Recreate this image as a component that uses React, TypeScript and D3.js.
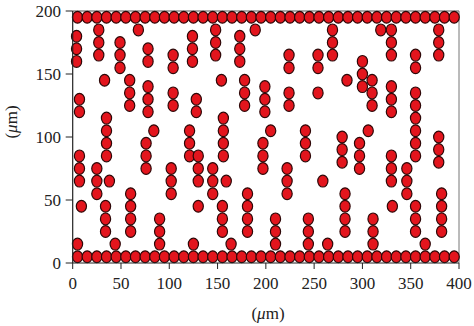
import React from "react";
import * as d3 from "d3";

const W = 474;
const H = 326;

const xTicks = [0, 50, 100, 150, 200, 250, 300, 350, 400];
const yTicks = [0, 50, 100, 150, 200];

// wall rows (µm)
const wallX = [5, 15, 25, 35, 45, 55, 65, 75, 85, 95, 105, 115, 125, 135, 145, 155, 165, 175, 185, 195,
  205, 215, 225, 235, 245, 255, 265, 275, 285, 295, 305, 315, 325, 335, 345, 355, 365, 375, 385, 395];
const bottomY = 5;
const topY = 195;

// interior particles [x µm, y µm]
const interior: [number, number][] = [
  [4, 180], [4, 170], [4, 160],
  [7, 130], [7, 120],
  [7, 85], [7, 75], [7, 65],
  [9, 45],
  [5, 15],
  [27, 185], [27, 175], [27, 165],
  [33, 145],
  [35, 115], [35, 105], [35, 95], [35, 85],
  [25, 75], [25, 65], [25, 55],
  [38, 65],
  [34, 45], [34, 35], [34, 25],
  [44, 15],
  [49, 175], [49, 165], [49, 155],
  [59, 145], [59, 135], [59, 125],
  [60, 55], [60, 45], [60, 35], [60, 25],
  [68, 185],
  [78, 170], [78, 160],
  [78, 140], [78, 130], [78, 120],
  [76, 95], [76, 85], [76, 75],
  [84, 105],
  [90, 35], [90, 25], [90, 15],
  [104, 165], [104, 155],
  [104, 135], [104, 125],
  [102, 75], [102, 65], [102, 55],
  [124, 180], [124, 170], [124, 160],
  [128, 130], [128, 120],
  [121, 105], [121, 95], [121, 85],
  [130, 85], [130, 75], [130, 65],
  [130, 45],
  [125, 15],
  [148, 185], [148, 175], [148, 165],
  [154, 145],
  [156, 115], [156, 105], [156, 95], [156, 85],
  [145, 75], [145, 65], [145, 55],
  [159, 65],
  [155, 45], [155, 35], [155, 25],
  [164, 15],
  [173, 180], [173, 170], [173, 160],
  [178, 145], [178, 135], [178, 125],
  [189, 185],
  [199, 140], [199, 130], [199, 120],
  [205, 105],
  [197, 95], [197, 85], [197, 75],
  [181, 55], [181, 45], [181, 35], [181, 25],
  [210, 35], [210, 25], [210, 15],
  [224, 165], [224, 155],
  [224, 135], [224, 125],
  [222, 75], [222, 65], [222, 55],
  [241, 105], [241, 95], [241, 85],
  [244, 35], [244, 25], [244, 15],
  [254, 165], [254, 155],
  [254, 135],
  [259, 65],
  [264, 15],
  [269, 185], [269, 175], [269, 165],
  [284, 145],
  [279, 100], [279, 90], [279, 80],
  [282, 55], [282, 45], [282, 35], [282, 25],
  [297, 95], [297, 85], [297, 75],
  [300, 160], [300, 150], [300, 140],
  [310, 145], [310, 135], [310, 125],
  [306, 105],
  [311, 35], [311, 25], [311, 15],
  [319, 185],
  [330, 185], [330, 175], [330, 165],
  [330, 140], [330, 130], [330, 120],
  [330, 85], [330, 75], [330, 65],
  [331, 45],
  [346, 75], [346, 65], [346, 55],
  [355, 165], [355, 155],
  [355, 135], [355, 125], [355, 115], [355, 105], [355, 95], [355, 85],
  [355, 45], [355, 35], [355, 25],
  [365, 15],
  [379, 185], [379, 175], [379, 165],
  [379, 100], [379, 90], [379, 80],
  [382, 55], [382, 45], [382, 35], [382, 25],
];

const X0 = 72.7, X1 = 459, Y0 = 263, Y1 = 11;

export default function App() {
  const x = d3.scaleLinear().domain([0, 400]).range([X0, X1]);
  const y = d3.scaleLinear().domain([0, 200]).range([Y0, Y1]);
  const pts: [number, number][] = [
    ...wallX.map((v) => [v, bottomY] as [number, number]),
    ...wallX.map((v) => [v, topY] as [number, number]),
    ...interior,
  ];
  const font = "'Liberation Serif', 'DejaVu Serif', serif";
  return (
    <svg width={W} height={H} style={{ position: "absolute", left: 0, top: 0, background: "#fff" }}>
      <rect x={0} y={0} width={W} height={H} fill="#fff" />
      {/* frame top/right */}
      <line x1={X0} x2={X1} y1={Y1} y2={Y1} stroke="#555" strokeWidth={1.2} />
      <line x1={X1} x2={X1} y1={Y1} y2={Y0} stroke="#777" strokeWidth={1} />
      {pts.map(([px, py], i) => (
        <ellipse key={i} cx={x(px)} cy={y(py)} rx={5.1} ry={5.9}
          fill="#e3151d" stroke="#2e0808" strokeWidth={1.2} />
      ))}
      {/* axes */}
      <line x1={X0} x2={X0} y1={Y1} y2={Y0} stroke="#222" strokeWidth={1.2} />
      <line x1={X0} x2={X1} y1={Y0} y2={Y0} stroke="#222" strokeWidth={1.2} />
      {xTicks.map((t) => (
        <g key={"x" + t}>
          <line x1={x(t)} x2={x(t)} y1={Y0} y2={Y0 + 6} stroke="#222" strokeWidth={1} />
          <text x={x(t)} y={288.5} textAnchor="middle" fontFamily={font} fontSize={17} fill="#222">{t}</text>
        </g>
      ))}
      {yTicks.map((t) => (
        <g key={"y" + t}>
          <line x1={X0 - 7} x2={X0} y1={y(t)} y2={y(t)} stroke="#222" strokeWidth={1} />
          <text x={61} y={y(t) + 5.8} textAnchor="end" fontFamily={font} fontSize={17} fill="#222">{t}</text>
        </g>
      ))}
      <text x={268} y={319} textAnchor="middle" fontFamily={font} fontSize={17} fill="#222">
        (<tspan fontStyle="italic">μ</tspan>m)
      </text>
      <text transform="translate(17,122) rotate(-90)" textAnchor="middle" fontFamily={font} fontSize={17} fill="#222">
        (<tspan fontStyle="italic">μ</tspan>m)
      </text>
    </svg>
  );
}
